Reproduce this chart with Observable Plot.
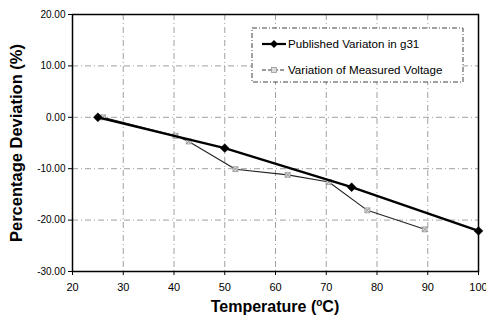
<!DOCTYPE html>
<html><head><meta charset="utf-8">
<script src="https://cdn.jsdelivr.net/npm/d3@7"></script>
<script src="https://cdn.jsdelivr.net/npm/@observablehq/plot@0.6"></script>
<style>
html,body{margin:0;padding:0;background:#fff;}
svg{font-family:"Liberation Sans",Arial,sans-serif;}
</style>
</head><body>
<div id="chart"></div>
<script>
const publishedTemp = [25, 50, 75, 100];
const publishedDev = [0, -6.0, -13.6, -22.1];
const measuredTemp = [26, 40.3, 42.9, 52.1, 62.4, 70.5, 78.1, 89.4];
const measuredDev = [0, -3.6, -4.7, -10.1, -11.2, -12.6, -18.1, -21.8];
const xTicks = [20, 30, 40, 50, 60, 70, 80, 90, 100];
const yTicks = [20, 10, 0, -10, -20, -30];
const seriesNames = ["Published Variaton in g31", "Variation of Measured Voltage"];

const pub = publishedTemp.map((t, i) => ({t, d: publishedDev[i]}));
const meas = measuredTemp.map((t, i) => ({t, d: measuredDev[i]}));

const W = 486, H = 323;
const chart = Plot.plot({
  width: W, height: H,
  marginLeft: 72, marginRight: 8, marginTop: 14, marginBottom: 52,
  style: {fontFamily: "'Liberation Sans', Arial, sans-serif", fontSize: "10px", color: "#000", background: "#fff"},
  x: {domain: [20, 100], label: null},
  y: {domain: [-30, 20], label: null},
  marks: [
    Plot.gridX(xTicks.slice(1, -1), {stroke: "#555", strokeOpacity: 0.7, strokeDasharray: "6,3,1,3", strokeWidth: 0.8}),
    Plot.gridY(yTicks.slice(1, -1), {stroke: "#555", strokeOpacity: 0.7, strokeDasharray: "6,3,1,3", strokeWidth: 0.8}),
    Plot.frame({stroke: "#000", strokeWidth: 1.5}),
    Plot.line(meas, {x: "t", y: "d", stroke: "#222", strokeWidth: 1.1}),
    Plot.dot(meas, {x: "t", y: "d", symbol: "square", r: 2.8, fill: "#ddd", stroke: "#999", strokeWidth: 0.8}),
    Plot.dot(meas, {x: "t", y: "d", symbol: "times", r: 2.5, stroke: "#888", strokeWidth: 0.8}),
    Plot.line(pub, {x: "t", y: "d", stroke: "#000", strokeWidth: 2.4}),
    Plot.dot(pub, {x: "t", y: "d", symbol: "diamond2", r: 4, fill: "#000", stroke: "#000", strokeWidth: 0.5}),
    Plot.axisX({ticks: xTicks, tickFormat: d => d, tickSize: 4, tickPadding: 8, label: null, fontSize: 11}),
    Plot.axisY({ticks: yTicks, tickFormat: d => d.toFixed(2), tickSize: 4, tickPadding: 3, label: null, fontSize: 10})
  ]
});

const svg = d3.select(chart);
svg.append("text")
  .attr("x", 275).attr("y", 312)
  .attr("text-anchor", "middle")
  .style("font-weight", "bold").style("font-size", "16px")
  .html('Temperature (<tspan dy="-6" font-size="10px">o</tspan><tspan dy="6">C)</tspan>');
svg.append("text")
  .attr("transform", "translate(22,143) rotate(-90)")
  .attr("text-anchor", "middle")
  .style("font-weight", "bold").style("font-size", "16.5px")
  .text("Percentage Deviation (%)");

// legend
const lg = svg.append("g").attr("text-anchor", "start");
lg.append("rect").attr("x", 252).attr("y", 28).attr("width", 211).attr("height", 54)
  .attr("fill", "#fff").attr("stroke", "#444").attr("stroke-width", 1).attr("stroke-dasharray", "5,2,1,2");
lg.append("line").attr("x1", 262).attr("x2", 286).attr("y1", 44).attr("y2", 44).attr("stroke", "#000").attr("stroke-width", 2.2);
lg.append("path").attr("d", "M274,40L278,44L274,48L270,44Z").attr("fill", "#000");
lg.append("line").attr("x1", 262).attr("x2", 286).attr("y1", 70).attr("y2", 70).attr("stroke", "#333").attr("stroke-width", 1).attr("stroke-dasharray", "4,2");
lg.append("rect").attr("x", 271.5).attr("y", 67.5).attr("width", 5).attr("height", 5).attr("fill", "#ddd").attr("stroke", "#999").attr("stroke-width", 0.8);
lg.append("text").attr("x", 288).attr("y", 48).attr("text-anchor", "start").style("font-size", "11.6px").text(seriesNames[0]);
lg.append("text").attr("x", 288).attr("y", 74).attr("text-anchor", "start").style("font-size", "11.6px").text(seriesNames[1]);

document.getElementById("chart").appendChild(chart);
</script>
</body></html>
